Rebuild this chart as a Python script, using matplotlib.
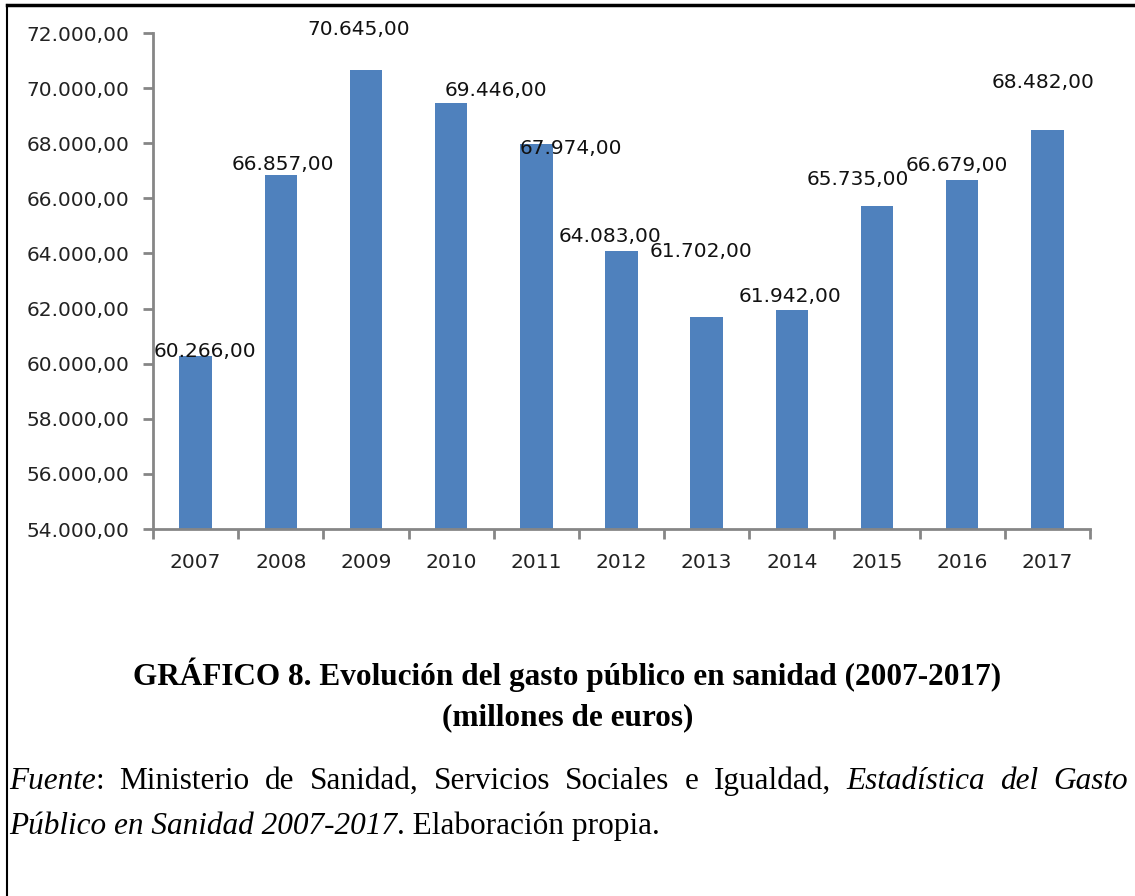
import matplotlib
matplotlib.use("Agg")
import matplotlib.pyplot as plt
from matplotlib.ticker import FuncFormatter
from matplotlib.lines import Line2D

# === Data ===
years = ["2007", "2008", "2009", "2010", "2011", "2012", "2013", "2014", "2015", "2016", "2017"]
gasto = [60266, 66857, 70645, 69446, 67974, 64083, 61702, 61942, 65735, 66679, 68482]
y_ticks = [54000, 56000, 58000, 60000, 62000, 64000, 66000, 68000, 70000, 72000]

# label offsets (pixels) as placed by hand in the original
label_dx = [9, 2, -7, 45, 35, -12, -6, -2, -19, -5, -4]
label_dy = [5, 10, 41, 13, -5, 15, 65, 14, 26, 14, 47]


def es_fmt(v, pos=None):
    s = f"{v:,.2f}"
    return s.replace(",", "X").replace(".", ",").replace("X", ".")


fig = plt.figure(figsize=(11.35, 8.96), dpi=100)
ax = fig.add_axes([153 / 1135, 1 - 529 / 896, (1090 - 153) / 1135, (529 - 33) / 896])

x = list(range(len(years)))
ax.bar(x, gasto, width=0.38, color="#4F81BD", zorder=2)

ax.set_xlim(-0.5, len(years) - 0.5)
ax.set_ylim(54000, 72000)
ax.set_yticks(y_ticks)
ax.yaxis.set_major_formatter(FuncFormatter(es_fmt))

# category ticks between bars, labels centered under bars
ax.set_xticks([i - 0.5 for i in range(len(years) + 1)])
ax.set_xticklabels([])
ax.set_xticks(x, minor=True)
ax.set_xticklabels(years, minor=True)
ax.tick_params(axis="x", which="minor", length=0, pad=17, labelsize=14.5, labelcolor="#222222")
ax.tick_params(axis="x", which="major", length=7, width=2, color="#868686", direction="out")
ax.tick_params(axis="y", length=7, width=2, color="#868686", labelsize=14.5,
               labelcolor="#222222", pad=10)

for side in ["top", "right"]:
    ax.spines[side].set_visible(False)
for side in ["left", "bottom"]:
    ax.spines[side].set_color("#868686")
    ax.spines[side].set_linewidth(2)

for i, v in enumerate(gasto):
    ax.annotate(es_fmt(v), (i, v), xytext=(label_dx[i] * 0.72, label_dy[i] * 0.72),
                textcoords="offset points", ha="center", va="center",
                fontsize=14.5, color="#111111")

# outer frame (top and left only visible)
fig.add_artist(Line2D([7 / 1135, 1], [1 - 5 / 896, 1 - 5 / 896], color="black", lw=2.5,
                      transform=fig.transFigure))
fig.add_artist(Line2D([7 / 1135, 7 / 1135], [0, 1 - 5 / 896], color="black", lw=1.5,
                      transform=fig.transFigure))

serif = "Liberation Serif"
fig.text(0.5, 1 - 675 / 896, "GRÁFICO 8. Evolución del gasto público en sanidad (2007-2017)",
         ha="center", va="center", fontsize=22.5, fontweight="bold", family=serif)
fig.text(0.5, 1 - 718 / 896, "(millones de euros)",
         ha="center", va="center", fontsize=22.5, fontweight="bold", family=serif)

# justified source line
line1 = [("Fuente:", None), ("Ministerio", "normal"), ("de", "normal"), ("Sanidad,", "normal"),
         ("Servicios", "normal"), ("Sociales", "normal"), ("e", "normal"), ("Igualdad,", "normal"),
         ("Estadística", "italic"), ("del", "italic"), ("Gasto", "italic")]
fs = 22.5
fig.canvas.draw()
renderer = fig.canvas.get_renderer()


def word_width(t, style):
    tt = fig.text(0, 0, t, fontsize=fs, family=serif, style=style)
    w = tt.get_window_extent(renderer).width
    tt.remove()
    return w


widths = []
for t, st in line1:
    if st is None:
        widths.append(word_width("Fuente", "italic") + word_width(":", "normal"))
    else:
        widths.append(word_width(t, st))
x0, x1 = 9, 1128
gap = (x1 - x0 - sum(widths)) / (len(line1) - 1)
y1 = 1 - 781 / 896
cur = x0
for (t, st), w in zip(line1, widths):
    if st is None:
        wf = word_width("Fuente", "italic")
        fig.text(cur / 1135, y1, "Fuente", fontsize=fs, family=serif, style="italic", va="center")
        fig.text((cur + wf) / 1135, y1, ":", fontsize=fs, family=serif, va="center")
    else:
        fig.text(cur / 1135, y1, t, fontsize=fs, family=serif, style=st, va="center")
    cur += w + gap

y2 = 1 - 826 / 896
part1 = "Público en Sanidad 2007-2017"
fig.text(9 / 1135, y2, part1, fontsize=fs, family=serif, style="italic", va="center")
w1 = word_width(part1, "italic")
fig.text((9 + w1) / 1135, y2, ". Elaboración propia.", fontsize=fs, family=serif, va="center")

fig.savefig("out.png", dpi=100, facecolor="white")
